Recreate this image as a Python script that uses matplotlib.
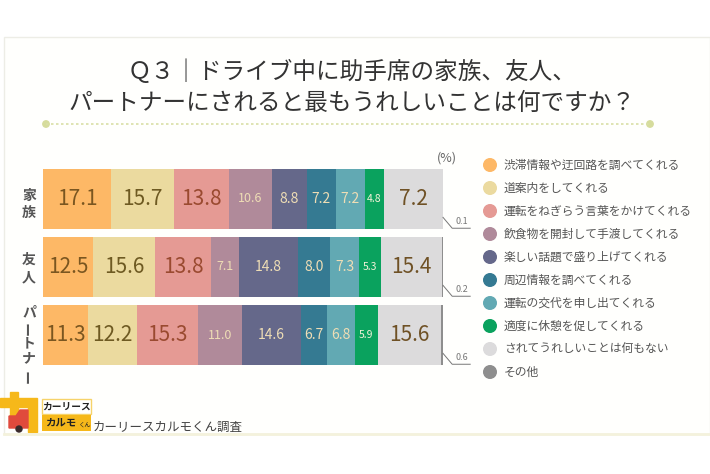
import numpy as np
import matplotlib
matplotlib.use("Agg")
import matplotlib.pyplot as plt
from matplotlib.patches import Rectangle, Polygon, Circle

plt.rcParams['font.family'] = ['Noto Sans CJK JP', 'DejaVu Sans']

TITLE_1 = "Ｑ３｜ドライブ中に助手席の家族、友人、"
TITLE_2 = "パートナーにされると最もうれしいことは何ですか？"
SOURCE = "カーリースカルモくん調査"

groups = ["家族", "友人", "パートナー"]
categories = [
    "渋滞情報や迂回路を調べてくれる",
    "道案内をしてくれる",
    "運転をねぎらう言葉をかけてくれる",
    "飲食物を開封して手渡してくれる",
    "楽しい話題で盛り上げてくれる",
    "周辺情報を調べてくれる",
    "運転の交代を申し出てくれる",
    "適度に休憩を促してくれる",
    "されてうれしいことは何もない",
    "その他",
]
# rows: 家族, 友人, パートナー (bar widths as drawn)
traffic = [17.1, 12.5, 11.3]
navigation = [15.7, 15.6, 12.2]
kind_words = [13.8, 13.8, 15.3]
food = [10.6, 7.1, 11.0]
topics = [8.8, 14.8, 14.6]
local_info = [7.2, 8.0, 6.7]
swap_driver = [7.2, 7.3, 6.8]
rest = [4.8, 5.3, 5.9]
nothing = [14.7, 15.4, 15.6]
other = [0.1, 0.2, 0.6]
# the chart prints 7.2 on the first "nothing" segment
nothing_labels = ["7.2", "15.4", "15.6"]

series = [traffic, navigation, kind_words, food, topics,
          local_info, swap_driver, rest, nothing, other]
colors = ["#FDB866", "#EBDA9F", "#E59A94", "#B08A9A", "#65688A",
          "#357A92", "#62A9B3", "#0AA25E", "#DCDBDC", "#8E8E8E"]
label_color = ["#7A5620", "#6E5A22", "#9A4A30", "#EEDDB5", "#EEDDB5",
               "#EEDDB5", "#EEDDB5", "#F2F2D8", "#6F5125", None]
label_size = [15, 15, 15, 9, 10, 10, 10, 7.5, 15, None]

W, H = 710, 474
fig = plt.figure(figsize=(W / 100, H / 100), dpi=100)
fig.patch.set_facecolor("white")

# background axes in pixel coordinates
bg = fig.add_axes([0, 0, 1, 1], zorder=0)
bg.set_xlim(0, W)
bg.set_ylim(H, 0)
bg.axis("off")
bg.add_patch(Rectangle((4, 37), W - 4, 397, facecolor="#FFFFFD",
                       edgecolor="#EDEDE6", lw=1))
bg.plot([4, W], [434, 434], color="#F4F2DC", lw=2)

bg.text(352, 72, TITLE_1, ha="center", va="center", fontsize=17, color="#333333")
bg.text(352, 103, TITLE_2, ha="center", va="center", fontsize=17, color="#333333")
bg.plot([46, 650], [124, 124], color="#D9DFA6", lw=1.2, linestyle=(0, (1.5, 1.5)))
for xe in (46, 650):
    bg.add_patch(Circle((xe, 124), 3.2, color="#D6DC9C"))

# group labels, written vertically
label_rows = [[196, 213], [260, 277], [312, 328, 343, 358, 376]]
for name, ys in zip(groups, label_rows):
    for ch, yy in zip(name, ys):
        bg.text(29, yy, ch, ha="center", va="center", fontsize=10,
                color="#555555", fontweight="bold",
                rotation=90 if ch == "ー" else 0)

# legend
for i, (cat, col) in enumerate(zip(categories, colors)):
    yy = 165 + i * 23
    bg.add_patch(Circle((490, yy), 6.3, color=col))
    bg.text(504, yy, cat, ha="left", va="center", fontsize=8.5, color="#555555")

# logo
bg.add_patch(Polygon([(0, 398), (10, 398), (10, 392), (18, 392), (18, 398),
                      (37, 398), (37, 432), (28, 432), (28, 407), (18, 407),
                      (18, 420), (10, 420), (10, 407), (0, 407)],
                     color="#F6B81A"))
bg.add_patch(Polygon([(9, 428), (9, 416), (16, 416), (20, 410), (28, 410),
                      (28, 428)], color="#E04A3C"))
bg.add_patch(Circle((19, 429), 3, color="#3A2A2A"))
bg.add_patch(Rectangle((42, 399), 49, 15, facecolor="white",
                       edgecolor="#F6D36A", lw=1))
bg.text(66.5, 406.5, "カーリース", ha="center", va="center", fontsize=7,
        fontweight="bold", color="#222222")
bg.add_patch(Rectangle((42, 415), 49, 16, facecolor="#F6B81A", edgecolor="none"))
bg.text(45, 423, "カルモ", ha="left", va="center", fontsize=7.5,
        fontweight="bold", color="#222222")
bg.text(78.5, 425, "くん", ha="left", va="center", fontsize=4.5, color="#222222")
bg.text(93, 427, SOURCE, ha="left", va="center", fontsize=9, color="#444444")

# stacked bars
ax = fig.add_axes([43 / W, (H - 365) / H, 400 / W, 196 / H], zorder=1)
ax.patch.set_alpha(0)
ax.set_xlim(0, 100)
ax.set_ylim(2 + 0.441, -0.441)
ax.axis("off")

ypos = np.arange(len(groups))
left = np.zeros(len(groups))
bar_h = 60 / 68
for k, vals in enumerate(series):
    vals = np.array(vals)
    ax.barh(ypos, vals, left=left, height=bar_h, color=colors[k], lw=0)
    if label_color[k] is not None:
        for r in range(len(groups)):
            txt = nothing_labels[r] if k == 8 else f"{vals[r]:.1f}"
            ax.text(left[r] + vals[r] / 2, ypos[r], txt, ha="center",
                    va="center", fontsize=label_size[k], color=label_color[k])
    left = left + vals

# small "other" values with leader lines
for r in range(len(groups)):
    ax.plot([100, 102.3, 106.8], [ypos[r] + 0.27, ypos[r] + 0.43, ypos[r] + 0.43],
            color="#777777", lw=0.7, clip_on=False)
    ax.text(104.6, ypos[r] + 0.40, f"{other[r]:.1f}", ha="center", va="bottom",
            fontsize=6.5, color="#777777")

ax.text(101, -0.60, "(%)", ha="center", va="center", fontsize=9,
        color="#666666", clip_on=False)

fig.savefig("out.png", dpi=100, facecolor="white")
